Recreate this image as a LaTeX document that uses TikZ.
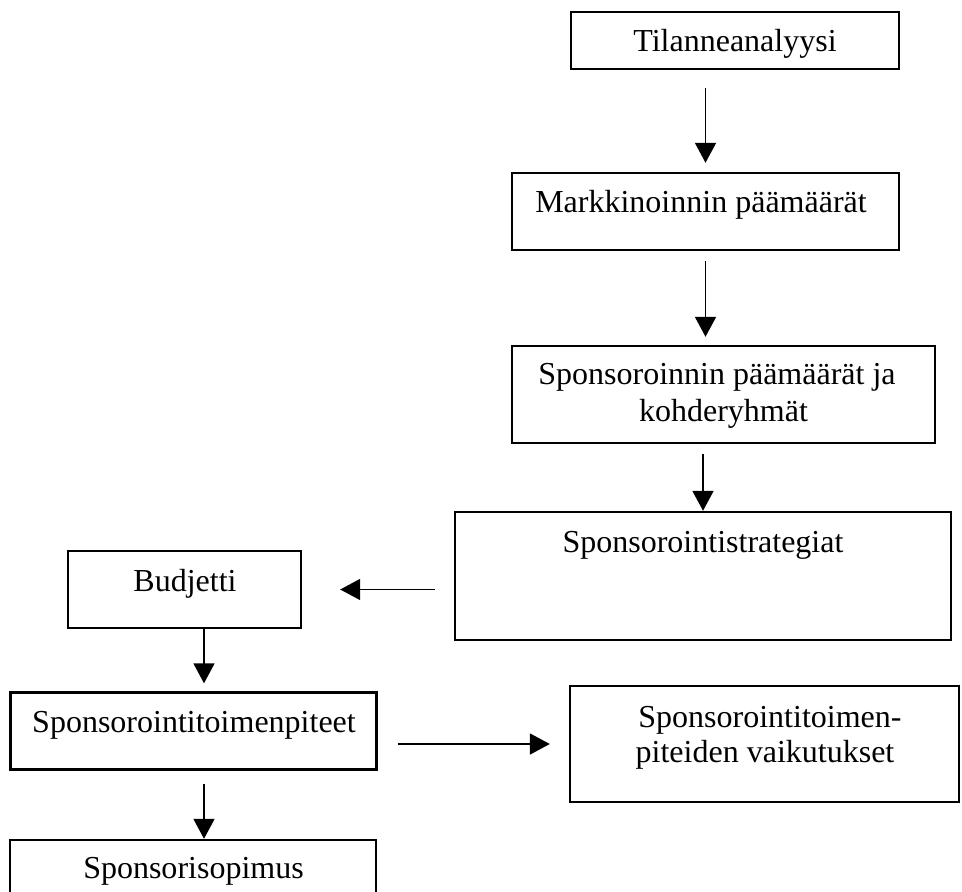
\documentclass[tikz,border=0pt]{standalone}
\usepackage{fontspec}
\setmainfont{Liberation Serif}
\usetikzlibrary{arrows.meta,calc}

\begin{document}
\begin{tikzpicture}[
  x=0.5pt, y=-0.5pt,
  box/.style={draw, line width=1.2pt, rectangle, inner sep=0pt},
  lbl/.style={anchor=base, inner sep=0pt, font=\fontsize{16}{19}\selectfont},
  arr/.style={line width=0.9pt, -{Triangle[width=10.5pt,length=10pt]}}
]
\clip (0,0) rectangle (962,892);

% boxes
\node[box, minimum width=164pt,   minimum height=28.5pt] (A) at (735,40.5) {};
\node[box, minimum width=193.5pt, minimum height=38.5pt] (B) at (705.5,211.5) {};
\node[box, minimum width=211.5pt, minimum height=48.5pt] (C) at (723.5,394.5) {};
\node[box, minimum width=248pt,   minimum height=64pt]   (D) at (703,576) {};
\node[box, minimum width=116.5pt, minimum height=38.5pt] (E) at (184.5,589.5) {};
\node[box, minimum width=183pt,   minimum height=38.5pt] (F) at (193.5,731) {};
\node[box, minimum width=194.5pt, minimum height=58pt]   (G) at (764.5,744) {};
\node[box, minimum width=183pt,   minimum height=40pt]   (H) at (193,880) {};

% labels
\node[lbl] (tA)  at (735,52)    {Tilanneanalyysi};
\node[lbl] (tB)  at (701,213)   {Markkinoinnin päämäärät};
\node[lbl] (tC1) at (717,385)   {Sponsoroinnin päämäärät ja};
\node[lbl] (tC2) at (723.5,422) {kohderyhmät};
\node[lbl] (tD)  at (703,552)   {Sponsorointistrategiat};
\node[lbl] (tE)  at (185,591)   {Budjetti};
\node[lbl] (tF)  at (194,732)   {Sponsorointitoimenpiteet};
\node[lbl] (tG1) at (770,727)   {Sponsorointitoimen-};
\node[lbl] (tG2) at (765,762)   {piteiden vaikutukset};
\node[lbl] (tH)  at (193.5,878) {Sponsorisopimus};

% connectors
\draw[arr] ([yshift=-9pt]B.north |- A.south) -- ([yshift=4.5pt]B.north);
\draw[arr] ([yshift=-5pt]B.south) -- ([yshift=4pt]C.north -| B.south);
\draw[arr] ([yshift=-5pt]C.south -| D.north) -- (D.north);
\draw[arr] ([xshift=-9.5pt]D.west |- E.east) -- ([xshift=19pt]E.east);
\draw[arr] ([xshift=9.75pt]E.south) -- ([xshift=9.75pt,yshift=4pt]E.south |- F.north);
\draw[arr] ([xshift=10pt]F.east |- G.west) -- ([xshift=-9.5pt]G.west);
\draw[arr] ([xshift=5.25pt,yshift=-6.5pt]F.south) -- ([xshift=5.25pt]F.south |- H.north);
\end{tikzpicture}
\end{document}
